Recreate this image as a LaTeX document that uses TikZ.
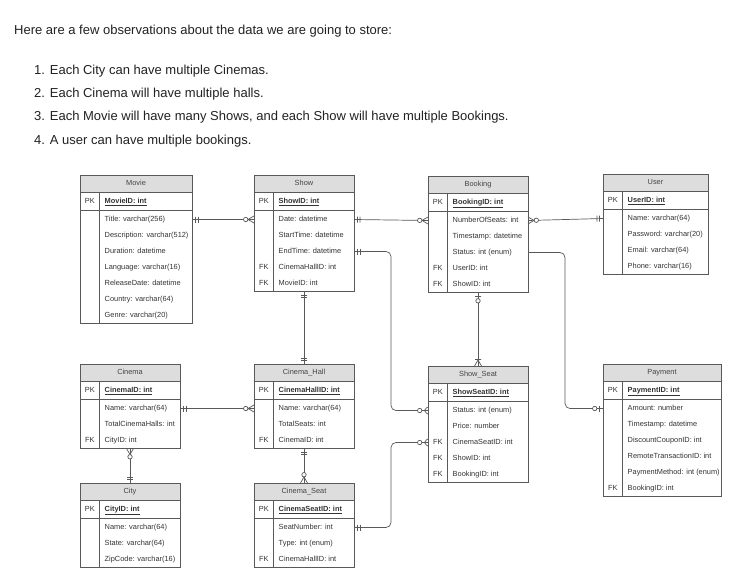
\documentclass[tikz,border=0pt]{standalone}
\usepackage{fontspec}
\setmainfont{Liberation Sans}
\usetikzlibrary{decorations.markings,calc}
\definecolor{linec}{HTML}{595959}
\definecolor{headf}{HTML}{DDDDDD}
\definecolor{txtc}{HTML}{333333}
\definecolor{headt}{HTML}{444444}
\definecolor{bodyc}{HTML}{222222}
\tikzset{
 tablebox/.style={draw=linec, line width=0.8pt, inner sep=0pt, outer sep=0pt, rectangle},
 sepline/.style={draw=linec, line width=0.8pt},
 headtext/.style={text=headt, font=\fontsize{7.4}{9}\selectfont, inner sep=0pt, text height=5.3pt, text depth=1.5pt},
 fieldtext/.style={text=txtc, font=\fontsize{7.4}{9}\selectfont, inner sep=0pt, anchor=west, text height=5.3pt, text depth=1.5pt},
 keytext/.style={text=txtc, font=\fontsize{7.4}{9}\selectfont, inner sep=0pt, text height=5.3pt, text depth=1.5pt},
 conn/.style={draw=linec, line width=0.7pt},
 mk/.style={draw=linec, line width=0.7pt},
 mfrom/.style={postaction={decorate,decoration={markings,mark=at position 0 with {#1}}}},
 mto/.style={postaction={decorate,decoration={markings,mark=at position 1 with {\begin{scope}[xscale=-1]#1\end{scope}}}}},
 bodytext/.style={text=bodyc, font=\fontsize{13}{16}\selectfont, anchor=west, inner sep=0pt},
}
\newcommand\mkOne{\draw[mk] (3.5,-3)--(3.5,3) (6,-3)--(6,3);}
\newcommand\mkZMany{\draw[mk] (0,-3.5)--(6,0)--(0,3.5); \draw[mk,fill=white] (8.3,0) circle (2.2pt);}
\newcommand\mkOneMany{\draw[mk] (0,-3.5)--(6,0)--(0,3.5) (6.5,-3)--(6.5,3);}
\newcommand\mkZOne{\draw[mk] (4,-3)--(4,3); \draw[mk,fill=white] (8.3,0) circle (2.2pt);}
% #1 name, #2 x, #3 y, #4 width, #5 rows, #6 title, #7 pk, #8 rows
\newcommand\ertable[8]{%
 \pgfmathsetmacro\tabh{52.5+16*(#5-1)}%
 \node[tablebox, minimum width=#4pt, minimum height=\tabh pt, anchor=north west] (#1) at (#2,#3) {};
 \fill[headf] (#1.north west) rectangle ([yshift=-17.5pt]#1.north east);
 \draw[sepline] ([yshift=-17.5pt]#1.north west) -- ([yshift=-17.5pt]#1.north east);
 \draw[sepline] ([yshift=-35.5pt]#1.north west) -- ([yshift=-35.5pt]#1.north east);
 \draw[sepline] ([xshift=19.5pt,yshift=-17.5pt]#1.north west) -- ([xshift=19.5pt]#1.south west);
 \draw[tablebox] (#1.north west) rectangle (#1.south east);
 \node[headtext] (#1-title) at ([yshift=-8.75pt]#1.north) {#6};
 \node[keytext] (#1-pkk) at ([xshift=9.75pt,yshift=-26.5pt]#1.north west) {PK};
 \node[fieldtext] (#1-pk) at ([xshift=24.5pt,yshift=-26.5pt]#1.north west) {\underline{\textbf{#7}}};
 \foreach \k/\t [count=\i] in {#8} {
   \pgfmathsetmacro\yy{-44.5-16*(\i-1)}
   \node[keytext] (#1-k\i) at ([xshift=9.75pt,yshift=\yy pt]#1.north west) {\k};
   \node[fieldtext] (#1-r\i) at ([xshift=24.5pt,yshift=\yy pt]#1.north west) {\t};
 }
}
\begin{document}
\begin{tikzpicture}[x=1pt,y=-1pt]
\useasboundingbox[fill=white] (0,0) rectangle (743,583);
% intro text
\node[bodytext] (intro) at (14,31) {Here are a few observations about the data we are going to store:};
\node[bodytext] (l1) at (34,71) {1. Each City can have multiple Cinemas.};
\node[bodytext] (l2) at (34,94) {2. Each Cinema will have multiple halls.};
\node[bodytext] (l3) at (34,117.5) {3. Each Movie will have many Shows, and each Show will have multiple Bookings.};
\node[bodytext] (l4) at (34,141) {4. A user can have multiple bookings.};
% tables
\ertable{movie}{80}{175}{112}{7}{Movie}{MovieID: int}{{}/Title: varchar(256), {}/Description: varchar(512), {}/Duration: datetime, {}/Language: varchar(16), {}/ReleaseDate: datetime, {}/Country: varchar(64), {}/Genre: varchar(20)}
\ertable{show}{254}{175}{100}{5}{Show}{ShowID: int}{{}/Date: datetime, {}/StartTime: datetime, {}/EndTime: datetime, FK/CinemaHallID: int, FK/MovieID: int}
\ertable{booking}{428}{176}{100}{5}{Booking}{BookingID: int}{{}/NumberOfSeats: int, {}/Timestamp: datetime, {}/Status: int (enum), FK/UserID: int, FK/ShowID: int}
\ertable{user}{603}{174}{105}{4}{User}{UserID: int}{{}/Name: varchar(64), {}/Password: varchar(20), {}/Email: varchar(64), {}/Phone: varchar(16)}
\ertable{cinema}{80}{364}{100}{3}{Cinema}{CinemaID: int}{{}/Name: varchar(64), {}/TotalCinemaHalls: int, FK/CityID: int}
\ertable{hall}{254}{364}{100}{3}{Cinema\_Hall}{CinemaHallID: int}{{}/Name: varchar(64), {}/TotalSeats: int, FK/CinemaID: int}
\ertable{showseat}{428}{366}{100}{5}{Show\_Seat}{ShowSeatID: int}{{}/Status: int (enum), {}/Price: number, FK/CinemaSeatID: int, FK/ShowID: int, FK/BookingID: int}
\ertable{payment}{603}{364}{118}{6}{Payment}{PaymentID: int}{{}/Amount: number, {}/Timestamp: datetime, {}/DiscountCouponID: int, {}/RemoteTransactionID: int, {}/PaymentMethod: int (enum), FK/BookingID: int}
\ertable{city}{80}{483}{100}{3}{City}{CityID: int}{{}/Name: varchar(64), {}/State: varchar(64), {}/ZipCode: varchar(16)}
\ertable{seat}{254}{483}{100}{3}{Cinema\_Seat}{CinemaSeatID: int}{{}/SeatNumber: int, {}/Type: int (enum), FK/CinemaHallID: int}
% bend coordinates
\coordinate (bx1) at (391,0);
\coordinate (bx2) at (565,0);
% connectors
\draw[conn,mfrom=\mkOne,mto=\mkZMany] (movie.east |- movie-r1) -- (show.west |- show-r1);
\draw[conn,mfrom=\mkOne,mto=\mkZMany] (show.east |- show-r1) -- (booking.west |- booking-r1);
\draw[conn,mfrom=\mkZMany,mto=\mkOne] (booking.east |- booking-r1) -- (user.west |- user-r1);
\draw[conn,rounded corners=5pt,mfrom=\mkOne,mto=\mkZMany] (show.east |- show-r3) -| (bx1 |- showseat-r1) -- (showseat.west |- showseat-r1);
\draw[conn,rounded corners=5pt,mfrom=\mkOne,mto=\mkZMany] (seat.east |- seat-r1) -| (bx1 |- showseat-r3) -- (showseat.west |- showseat-r3);
\draw[conn,mfrom=\mkZOne,mto=\mkOneMany] (booking.south) -- (showseat.north);
\draw[conn,rounded corners=5pt,mto=\mkZOne] (booking.east |- booking-r3) -| (bx2 |- payment-r1) -- (payment.west |- payment-r1);
\draw[conn,mfrom=\mkOne,mto=\mkOne] (show.south) -- (hall.north);
\draw[conn,mfrom=\mkOne,mto=\mkZMany] (cinema.east |- cinema-r1) -- (hall.west |- hall-r1);
\draw[conn,mfrom=\mkZMany,mto=\mkOne] (cinema.south) -- (city.north);
\draw[conn,mfrom=\mkOne,mto=\mkZMany] (hall.south) -- (seat.north);
\end{tikzpicture}
\end{document}
